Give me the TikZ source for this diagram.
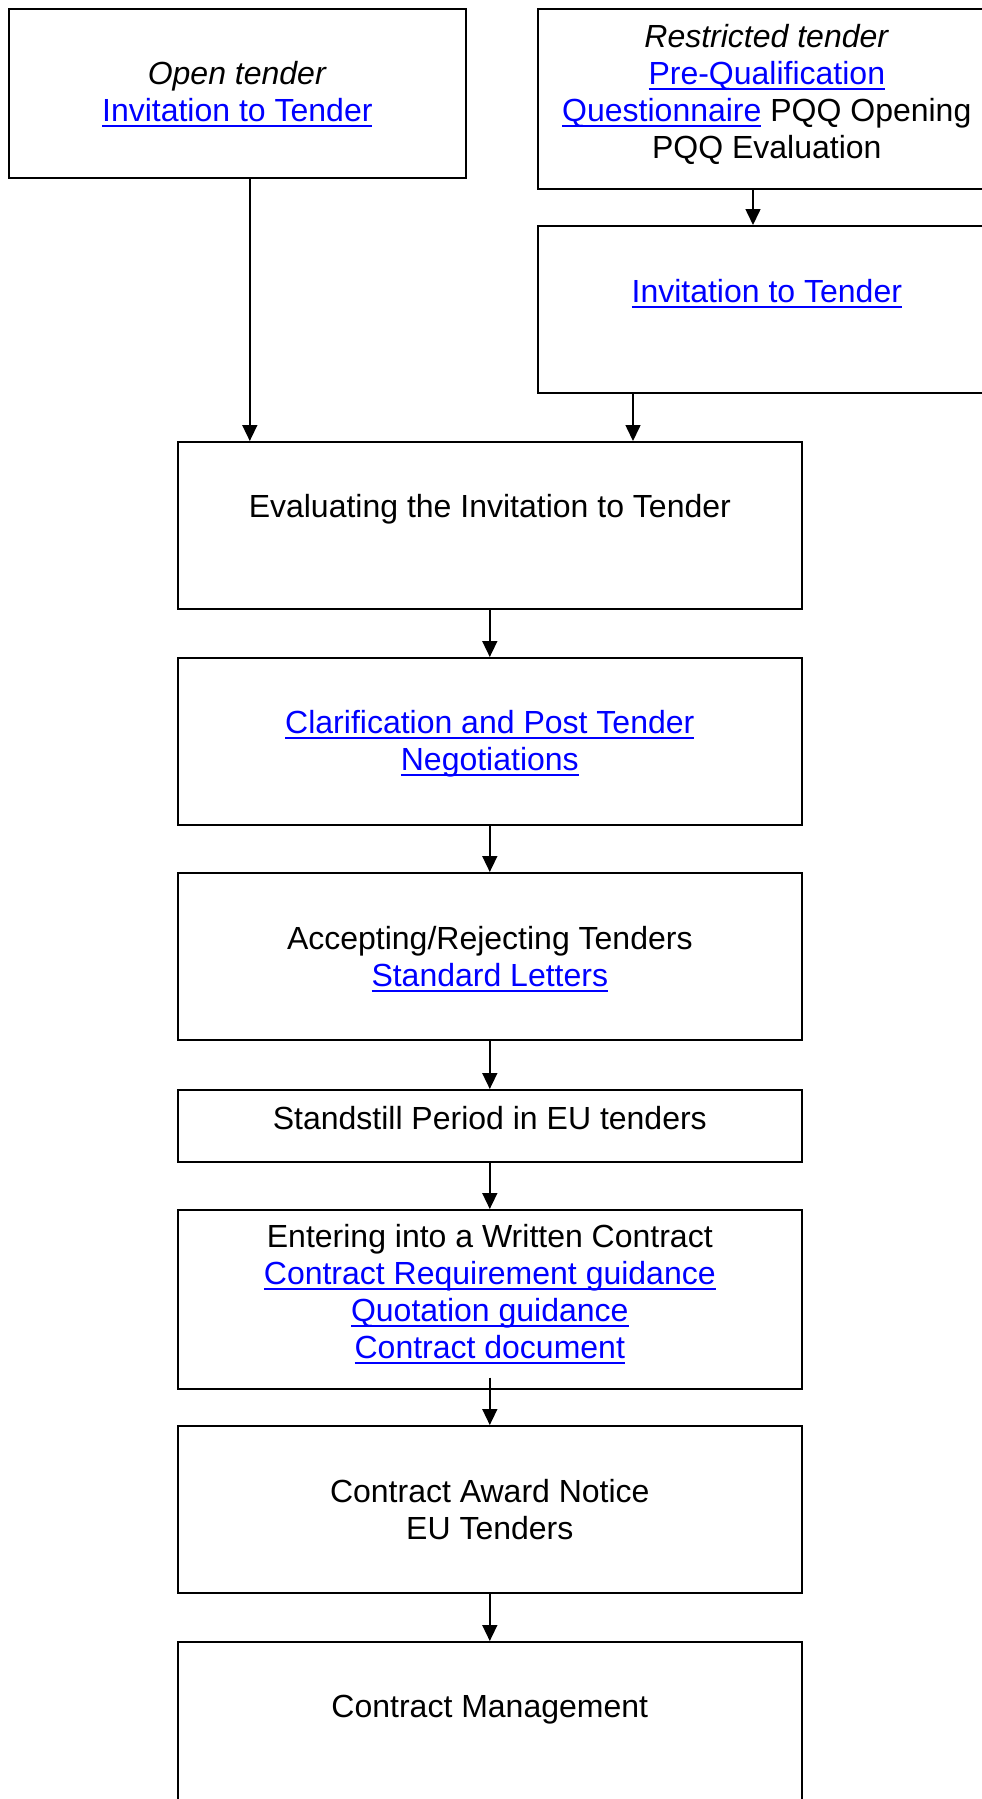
\documentclass[tikz,border=0pt]{standalone}
\usepackage{fontspec}
\setmainfont{Liberation Sans}
\usetikzlibrary{arrows.meta,calc}
\definecolor{linkblue}{RGB}{0,0,255}
\newcommand{\lnk}[1]{\textcolor{linkblue}{\setbox0\hbox{#1}\rlap{\rule[-6pt]{\wd0}{2.4pt}}\box0}}
\begin{document}
\begin{tikzpicture}[x=1pt,y=-1pt,
  box/.style={draw, line width=1.6pt, rectangle, anchor=north west, inner sep=0pt},
  txt/.style={font=\fontsize{32}{36.8}\selectfont, align=center, anchor=base, inner sep=0pt},
  arr/.style={line width=1.6pt, -{Triangle[length=16pt,width=15pt]}}]
\useasboundingbox (0,0) rectangle (982,1799);
\clip (0,0) rectangle (982,1799);
\fill[white] (0,0) rectangle (982,1799);
% boxes
\node[box, minimum width=457pt, minimum height=169pt] (open) at (8,8) {};
\node[box, minimum width=458pt, minimum height=180pt] (restr) at (537,8) {};
\node[box, minimum width=458pt, minimum height=167pt] (inv) at (537,225) {};
\node[box, minimum width=624pt, minimum height=167pt] (eval) at (177,441) {};
\node[box, minimum width=624pt, minimum height=167pt] (clar) at (177,657) {};
\node[box, minimum width=624pt, minimum height=167pt] (accept) at (177,872) {};
\node[box, minimum width=624pt, minimum height=72pt] (stand) at (177,1089) {};
\node[box, minimum width=624pt, minimum height=179pt] (enter) at (177,1209) {};
\node[box, minimum width=624pt, minimum height=167pt] (award) at (177,1425) {};
\node[box, minimum width=624pt, minimum height=167pt] (mgmt) at (177,1641) {};
% texts (anchor = baseline of the last line)
\node[txt] (t-open) at ([yshift=-113pt]open.north) {\textit{Open tender}\\\lnk{Invitation to Tender}};
\node[txt] (t-restr) at ([yshift=-150pt]restr.north) {\textit{Restricted tender}\\\lnk{Pre-Qualification}\\\lnk{Questionnaire} PQQ Opening\\PQQ Evaluation};
\node[txt] (t-inv) at ([yshift=-77pt]inv.north) {\lnk{Invitation to Tender}};
\node[txt] (t-eval) at ([yshift=-76pt]eval.north) {Evaluating the Invitation to Tender};
\node[txt] (t-clar) at ([yshift=-113pt]clar.north) {\lnk{Clarification and Post Tender}\\\lnk{Negotiations}};
\node[txt] (t-accept) at ([yshift=-114pt]accept.north) {Accepting/Rejecting Tenders\\\lnk{Standard Letters}};
\node[txt] (t-stand) at ([yshift=-40pt]stand.north) {Standstill Period in EU tenders};
\node[txt] (t-enter) at ([yshift=-149pt]enter.north) {Entering into a Written Contract\\\lnk{Contract Requirement guidance}\\\lnk{Quotation guidance}\\\lnk{Contract document}};
\node[txt] (t-award) at ([yshift=-114pt]award.north) {Contract Award Notice\\EU Tenders};
\node[txt] (t-mgmt) at ([yshift=-76pt]mgmt.north) {Contract Management};
% connectors
\draw[arr] ([xshift=12.5pt]open.south) -- ([xshift=12.5pt]open.south |- eval.north);
\draw[arr] ([xshift=216pt]restr.south west) -- ([xshift=216pt]restr.south west |- inv.north);
\draw[arr] ([xshift=96pt]inv.south west) -- ([xshift=96pt]inv.south west |- eval.north);
\draw[arr] (eval.south) -- (clar.north);
\draw[arr] (clar.south) -- (accept.north);
\draw[arr] (accept.south) -- (stand.north);
\draw[arr] (stand.south) -- (enter.north);
\draw[arr] ([yshift=12pt]enter.south) -- (award.north);
\draw[arr] (award.south) -- (mgmt.north);
\end{tikzpicture}
\end{document}
